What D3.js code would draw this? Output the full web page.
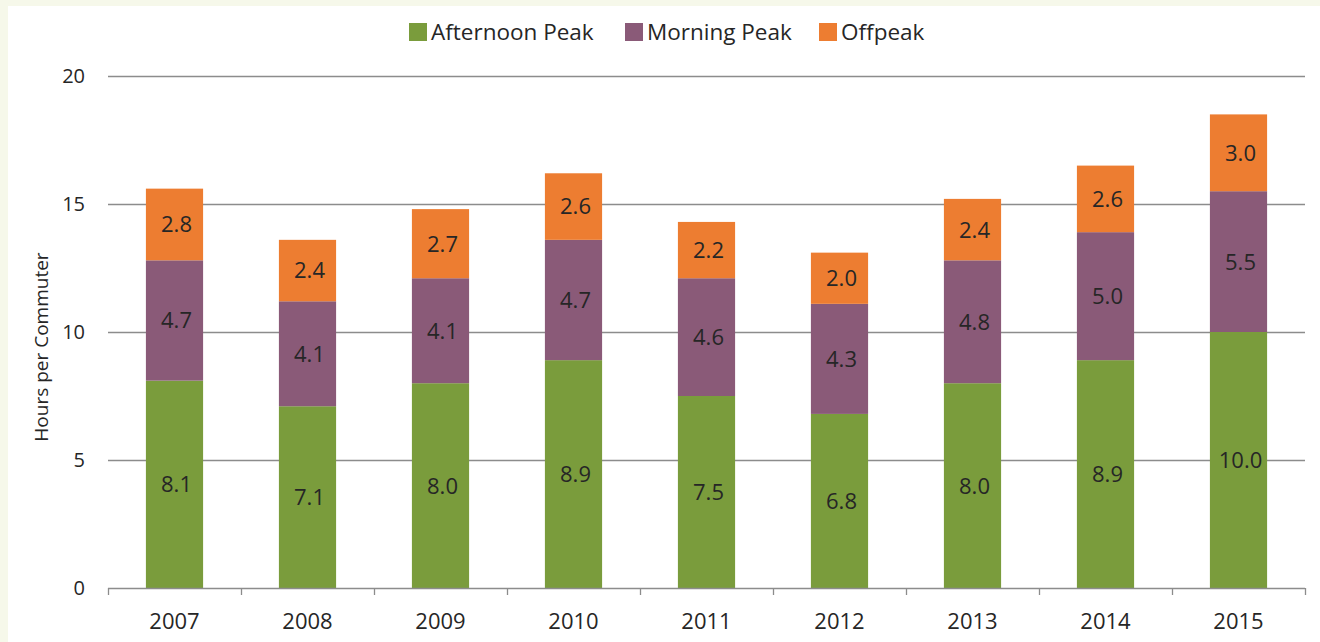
<!DOCTYPE html>
<html><head><meta charset="utf-8">
<script src="https://cdn.jsdelivr.net/npm/d3@7"></script>
<style>
html,body{margin:0;padding:0;background:#f6f8ea;}
svg{display:block;}
</style></head>
<body>
<svg id="chart" width="1320" height="642"></svg>
<script>
const years = ["2007","2008","2009","2010","2011","2012","2013","2014","2015"];
const afternoonPeak = [8.1,7.1,8.0,8.9,7.5,6.8,8.0,8.9,10.0];
const morningPeak   = [4.7,4.1,4.1,4.7,4.6,4.3,4.8,5.0,5.5];
const offpeak       = [2.8,2.4,2.7,2.6,2.2,2.0,2.4,2.6,3.0];
const seriesNames = ["Afternoon Peak","Morning Peak","Offpeak"];
const seriesColors = ["#7a9c3c","#8a5a78","#ed7d31"];
const yTicks = [0,5,10,15,20];
const yTitle = "Hours per Commuter";

const svg = d3.select("#chart");
const font = "'Open Sans', sans-serif";
const textColor = "#262626";

svg.append("rect").attr("x",8).attr("y",6).attr("width",1312).attr("height",636).attr("fill","#fff");

const m = {left:108, right:1305, top:76, bottom:588};
const x = d3.scaleBand().domain(years).range([m.left,m.right]).paddingInner(0.57).paddingOuter(0.285);
const xOuter = d3.scaleBand().domain(years).range([m.left,m.right]);
const y = d3.scaleLinear().domain([0,20]).range([m.bottom,m.top]);

// gridlines
svg.append("g").selectAll("line").data(yTicks.filter(d=>d>0)).join("line")
  .attr("x1",m.left).attr("x2",m.right)
  .attr("y1",d=>y(d)+0.5).attr("y2",d=>y(d)+0.5)
  .attr("stroke","#8c8c8c").attr("stroke-width",1.3);

// y labels
svg.append("g").selectAll("text").data(yTicks).join("text")
  .attr("x",85).attr("y",d=>y(d)).attr("dy","0.35em")
  .attr("text-anchor","end").attr("font-family",font).attr("font-size",20).attr("fill",textColor)
  .text(d=>d);

// y title
svg.append("text").attr("transform",`translate(48,${(m.top+m.bottom)/2+15}) rotate(-90)`)
  .attr("text-anchor","middle").attr("font-family",font).attr("font-size",19).attr("fill",textColor)
  .text(yTitle);

// stack
const data = years.map((yr,i)=>({year:yr,"Afternoon Peak":afternoonPeak[i],"Morning Peak":morningPeak[i],"Offpeak":offpeak[i]}));
const stacked = d3.stack().keys(seriesNames)(data);

stacked.forEach((s,si)=>{
  const g = svg.append("g");
  g.selectAll("rect").data(s).join("rect")
    .attr("x",d=>x(d.data.year)).attr("width",x.bandwidth())
    .attr("y",d=>y(d[1])).attr("height",d=>y(d[0])-y(d[1]))
    .attr("fill",seriesColors[si]);
  g.selectAll("text").data(s).join("text")
    .attr("x",d=>x(d.data.year)+x.bandwidth()/2+2)
    .attr("y",d=>(y(d[0])+y(d[1]))/2).attr("dy","0.36em")
    .attr("text-anchor","middle").attr("font-family",font).attr("font-size",22).attr("fill",textColor)
    .text(d=>(d[1]-d[0]).toFixed(1));
});

// x axis
const xa = svg.append("g");
xa.append("line").attr("x1",m.left).attr("x2",m.right).attr("y1",m.bottom+0.5).attr("y2",m.bottom+0.5)
  .attr("stroke","#8c8c8c").attr("stroke-width",1.3);
const bounds = years.map(d=>xOuter(d)).concat([m.right]);
xa.selectAll("line.tk").data(bounds).join("line").attr("class","tk")
  .attr("x1",d=>d+0.5).attr("x2",d=>d+0.5).attr("y1",m.bottom).attr("y2",m.bottom+7)
  .attr("stroke","#8c8c8c").attr("stroke-width",1.3);
xa.selectAll("text").data(years).join("text")
  .attr("x",d=>xOuter(d)+xOuter.bandwidth()/2).attr("y",629)
  .attr("text-anchor","middle").attr("font-family",font).attr("font-size",22).attr("fill",textColor)
  .text(d=>d);

// legend
const legendX = [409,625,819];
const lg = svg.append("g");
seriesNames.forEach((n,i)=>{
  lg.append("rect").attr("x",legendX[i]).attr("y",23).attr("width",18).attr("height",18).attr("fill",seriesColors[i]);
  lg.append("text").attr("x",legendX[i]+22).attr("y",32).attr("dy","0.36em")
    .attr("font-family",font).attr("font-size",22.5).attr("fill",textColor).text(n);
});
</script>
</body></html>
